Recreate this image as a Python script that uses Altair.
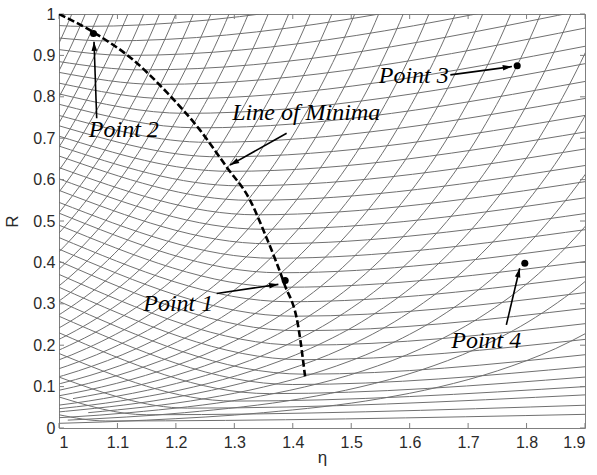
import math
import altair as alt
import pandas as pd

# ---------------- data ----------------
# Family A (the gently curved family with a minimum on the "line of minima")
A_R_MIN = [0.017, 0.032, 0.048, 0.065, 0.083, 0.105, 0.13, 0.165, 0.20, 0.235, 0.27, 0.305,
           0.34, 0.375, 0.41, 0.445, 0.48, 0.515, 0.55, 0.585, 0.62, 0.655, 0.69, 0.725,
           0.76, 0.795, 0.83, 0.865, 0.90, 0.935, 0.97]
A_ETA_MIN = [1.08, 1.15, 1.22, 1.30, 1.36, 1.40, 1.42, 1.418, 1.414, 1.41, 1.403, 1.394,
             1.388, 1.379, 1.368, 1.359, 1.349, 1.338, 1.327, 1.31, 1.292, 1.274, 1.255, 1.238,
             1.216, 1.194, 1.169, 1.143, 1.117, 1.082, 1.04]
A_R_LEFT = [0.032, 0.075, 0.123, 0.18, 0.23, 0.27, 0.306, 0.34, 0.371, 0.403, 0.432, 0.46,
            0.49, 0.519, 0.545, 0.574, 0.602, 0.629, 0.657, 0.681, 0.705, 0.73, 0.755, 0.782,
            0.807, 0.833, 0.859, 0.885, 0.914, 0.942, 0.972]
A_R_RIGHT = [0.033, 0.055, 0.08, 0.10, 0.123, 0.148, 0.177, 0.214, 0.252, 0.289, 0.327, 0.365,
             0.402, 0.441, 0.479, 0.518, 0.556, 0.595, 0.634, 0.674, 0.715, 0.755, 0.796, 0.837,
             0.88, 0.922, 0.966, 1.01, 1.054, 1.10, 1.15]

# Family B (the steep rising family): where each curve meets R = 1, and the common curve shape
B_ETA_TOP = [1.000, 1.022, 1.045, 1.068, 1.093, 1.118, 1.145, 1.172, 1.200, 1.230, 1.260, 1.291,
             1.324, 1.358, 1.393, 1.430, 1.467, 1.506, 1.547, 1.589, 1.633, 1.678, 1.725, 1.773,
             1.824, 1.876, 1.930, 1.986, 2.050, 2.120, 2.215, 2.350]
B_SHAPE_DETA = [0.02, 0.0, -0.1, -0.2, -0.3, -0.4, -0.5, -0.6, -0.7, -0.8, -1.0, -1.2, -1.5, -1.8]
B_SHAPE_R = [1.07, 1.0, 0.72, 0.52, 0.372, 0.267, 0.192, 0.138, 0.099, 0.071, 0.037, 0.019, 0.007, 0.0026]

# Line of minima
LOM_ETA = [1.0, 1.06, 1.127, 1.185, 1.241, 1.287, 1.327, 1.352, 1.385, 1.41, 1.421]
LOM_R = [1.0, 0.955, 0.889, 0.81, 0.72, 0.63, 0.55, 0.47, 0.35, 0.24, 0.125]

# Marked points
PT_ETA = [1.387, 1.059, 1.784, 1.797]
PT_R = [0.356, 0.953, 0.875, 0.398]

# Labels
LBL_TEXT = ["Point 2", "Line of Minima", "Point 3", "Point 1", "Point 4"]
LBL_ETA = [1.111, 1.423, 1.607, 1.204, 1.731]
LBL_R = [0.703, 0.744, 0.833, 0.283, 0.193]

# Arrows (start -> tip)
AR_ETA0 = [1.0645, 1.3895, 1.6696, 1.2698, 1.7654]
AR_R0 = [0.748, 0.712, 0.853, 0.325, 0.249]
AR_ETA1 = [1.0599, 1.2926, 1.775, 1.3753, 1.7883]
AR_R1 = [0.933, 0.635, 0.873, 0.347, 0.386]

X_TICKS = [1, 1.1, 1.2, 1.3, 1.4, 1.5, 1.6, 1.7, 1.8, 1.9]
Y_TICKS = [0, 0.1, 0.2, 0.3, 0.4, 0.5, 0.6, 0.7, 0.8, 0.9, 1]

# ---------------- tables ----------------
W, H = 526, 414
SX = W / 0.9
SY = H / 1.0
SANS = "Liberation Sans"
SERIF = "Liberation Serif"

rowsA = []
for i, (rl, em, rm, rr) in enumerate(zip(A_R_LEFT, A_ETA_MIN, A_R_MIN, A_R_RIGHT)):
    for e, r in [(1.0, rl), (em, rm), (1.9, rr)]:
        rowsA.append({"curve": f"A{i}", "eta": e, "R": r})
famA = pd.DataFrame(rowsA)

rowsB = []
for i, e0 in enumerate(B_ETA_TOP):
    for de, r in zip(B_SHAPE_DETA, B_SHAPE_R):
        e = e0 + de
        if 0.85 <= e <= 2.05:
            rowsB.append({"curve": f"B{i}", "eta": e, "R": r})
famB = pd.DataFrame(rowsB)

lom = pd.DataFrame({"eta": LOM_ETA, "R": LOM_R})
pts = pd.DataFrame({"eta": PT_ETA, "R": PT_R})
lbl = pd.DataFrame({"text": LBL_TEXT, "eta": LBL_ETA, "R": LBL_R})
ang = []
for a0, r0, a1, r1 in zip(AR_ETA0, AR_R0, AR_ETA1, AR_R1):
    ang.append(math.degrees(math.atan2((a1 - a0) * SX, (r1 - r0) * SY)) % 360)
arr = pd.DataFrame({"eta0": AR_ETA0, "R0": AR_R0, "eta1": AR_ETA1, "R1": AR_R1, "angle": ang})
xt = pd.DataFrame({"v": X_TICKS})
yt = pd.DataFrame({"v": Y_TICKS})

xs = alt.Scale(domain=[1.0, 1.9], nice=False, zero=False)
ys = alt.Scale(domain=[0.0, 1.0], nice=False, zero=False)

xaxis = alt.Axis(values=X_TICKS, format="~g", title="η", grid=False, domain=False, tickSize=0,
                 labelFont=SANS, labelFontSize=16, labelColor="#2a2a2a", labelPadding=6,
                 titleFont=SANS, titleFontSize=17, titleFontWeight="normal",
                 titleColor="#2a2a2a", titleY=34, titleBaseline="alphabetic")
yaxis = alt.Axis(values=Y_TICKS, format="~g", title="R", grid=False, domain=False, tickSize=0,
                 labelFont=SANS, labelFontSize=16, labelColor="#2a2a2a", labelPadding=4,
                 titleFont=SANS, titleFontSize=17, titleFontWeight="normal",
                 titleColor="#2a2a2a", titleX=-47, titleY=207, titleBaseline="middle")

curveA = alt.Chart(famA).mark_line(clip=True, color="#707070", strokeWidth=1, interpolate="monotone").encode(
    x=alt.X("eta:Q", scale=xs, axis=xaxis),
    y=alt.Y("R:Q", scale=ys, axis=yaxis),
    detail="curve:N",
)
curveB = alt.Chart(famB).mark_line(clip=True, color="#707070", strokeWidth=1, interpolate="monotone").encode(
    x=alt.X("eta:Q", scale=xs), y=alt.Y("R:Q", scale=ys), detail="curve:N",
)
lomL = alt.Chart(lom).mark_line(clip=True, color="black", strokeWidth=2.6, strokeDash=[7, 3],
                                interpolate="monotone").encode(
    x=alt.X("eta:Q", scale=xs), y=alt.Y("R:Q", scale=ys),
)
ptsL = alt.Chart(pts).mark_circle(size=50, color="black", opacity=1).encode(
    x=alt.X("eta:Q", scale=xs), y=alt.Y("R:Q", scale=ys),
)
arrL = alt.Chart(arr).mark_rule(color="black", strokeWidth=1.6).encode(
    x=alt.X("eta0:Q", scale=xs), y=alt.Y("R0:Q", scale=ys), x2="eta1:Q", y2="R1:Q",
)
headL = alt.Chart(arr).mark_point(shape="M0,0L-0.7,2.3L0.7,2.3Z", filled=True, color="black",
                                  opacity=1, size=64, strokeWidth=0).encode(
    x=alt.X("eta1:Q", scale=xs), y=alt.Y("R1:Q", scale=ys), angle=alt.Angle("angle:Q", scale=None),
)
lblL = alt.Chart(lbl).mark_text(font=SERIF, fontStyle="italic", fontSize=24,
                                align="center", baseline="alphabetic", color="black").encode(
    x=alt.X("eta:Q", scale=xs), y=alt.Y("R:Q", scale=ys), text="text:N",
)
tick_col = "#7f7f7f"
tb = alt.Chart(xt).mark_rule(color=tick_col).encode(x=alt.X("v:Q", scale=xs), y=alt.value(H), y2=alt.value(H - 5))
tt = alt.Chart(xt).mark_rule(color=tick_col).encode(x=alt.X("v:Q", scale=xs), y=alt.value(0), y2=alt.value(5))
tl = alt.Chart(yt).mark_rule(color=tick_col).encode(y=alt.Y("v:Q", scale=ys), x=alt.value(0), x2=alt.value(5))
tr = alt.Chart(yt).mark_rule(color=tick_col).encode(y=alt.Y("v:Q", scale=ys), x=alt.value(W), x2=alt.value(W - 5))

chart = alt.layer(curveA, curveB, tb, tt, tl, tr, lomL, arrL, headL, ptsL, lblL).properties(
    width=W, height=H,
    autosize=alt.AutoSizeParams(type="none"),
    padding={"left": 59, "top": 14, "right": 12, "bottom": 47},
    background="white",
).configure_view(stroke="#7f7f7f", strokeWidth=1)

chart.save("out.html", embed_options={"renderer": "svg", "actions": False})
